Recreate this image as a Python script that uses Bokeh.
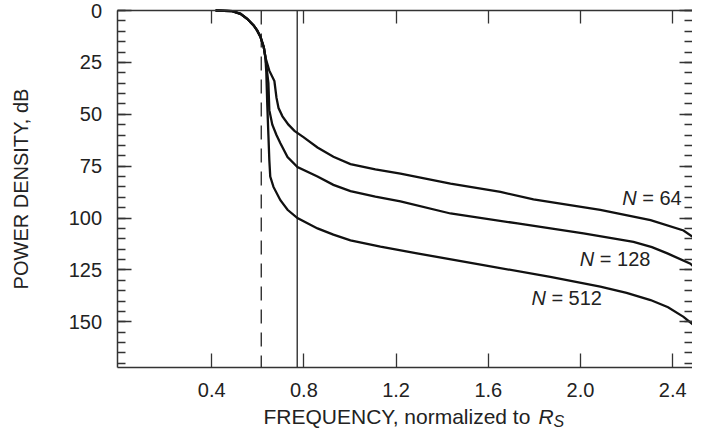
import math
from bokeh.plotting import figure
from bokeh.models import Range1d, LinearAxis, FixedTicker, Label
from bokeh.embed import file_html
from bokeh.resources import INLINE

# ---------------- data ----------------
x_common = [0.417, 0.489, 0.525, 0.554, 0.582, 0.597, 0.612, 0.626, 0.633]
db_common = [0.0, 0.3, 1.6, 4.0, 7.2, 9.6, 12.8, 17.7, 22.5]

x_n512 = [0.637, 0.641, 0.646, 0.650, 0.654, 0.668, 0.698, 0.729, 0.772, 0.859, 0.928,
          1.002, 1.132, 1.291, 1.579, 1.869, 2.086, 2.200, 2.304, 2.380, 2.447, 2.490, 2.520, 2.551]
db_n512 = [30, 45, 60, 72, 80, 85, 91.4, 96, 100, 105, 108,
           110.7, 113.8, 117, 122.7, 128.3, 133, 136, 139.5, 143, 147.6, 151.5, 155.5, 162]

x_n128 = [0.646, 0.650, 0.663, 0.681, 0.698, 0.729, 0.772, 0.859, 0.928, 1.002, 1.110, 1.219,
          1.436, 1.727, 2.013, 2.230, 2.310, 2.377, 2.477, 2.534, 2.551]
db_n128 = [35, 48, 55, 60, 64, 70.6, 75.4, 80, 84, 87, 89.7, 92,
           97.8, 102.6, 107.4, 111.5, 114, 117, 122, 128, 132]

x_n64 = [0.650, 0.672, 0.681, 0.690, 0.707, 0.733, 0.759, 0.798, 0.859, 0.928, 1.002,
         1.110, 1.219, 1.436, 1.653, 1.796, 2.086, 2.304, 2.447, 2.508, 2.534, 2.551]
db_n64 = [29, 34, 42, 47, 51, 55, 58, 61, 66, 70.5, 74,
          76.5, 78.6, 83.4, 87.4, 91, 96, 101, 106, 110.7, 115.5, 118]

series_names = ["64", "128", "512"]

x_ticks = [0.4, 0.8, 1.2, 1.6, 2.0, 2.4]
x_tick_labels = ["0.4", "0.8", "1.2", "1.6", "2.0", "2.4"]
y_ticks = [0, 25, 50, 75, 100, 125, 150]
y_minor_ticks = list(range(0, 175, 5))

# axis limits of the plotting box
x_lo, x_hi = -0.0105, 2.486
db_top, db_bottom = 0, 172

dashed_freq = 0.615
solid_freq = 0.771

x_title = "FREQUENCY, normalized to"
y_title = "POWER DENSITY, dB"

# ---------------- styling ----------------
FONT = "Liberation Sans"
TXT = "#222222"
AX = "#333333"
FS = "20px"

W, H = 692, 429
# whole canvas is the frame; the plot box is drawn by fixed-location axes
p = figure(width=W, height=H,
           x_range=Range1d(-0.5163, x_hi), y_range=Range1d(201.87, -4.818),
           output_backend="svg", toolbar_location=None,
           x_axis_location=None, y_axis_location=None, min_border=0)
p.outline_line_color = None
p.xgrid.visible = False
p.ygrid.visible = False
p.background_fill_color = "white"
p.border_fill_color = "white"


def style(ax):
    ax.axis_line_color = AX
    ax.axis_line_width = 1.5
    ax.major_tick_line_color = AX
    ax.minor_tick_line_color = AX
    ax.major_tick_line_width = 1.3
    ax.minor_tick_line_width = 1.3
    ax.major_tick_out = 0
    ax.minor_tick_out = 0
    ax.major_label_text_font = FONT
    ax.major_label_text_color = TXT
    ax.major_label_text_font_size = FS


bottom = LinearAxis(ticker=FixedTicker(ticks=x_ticks, minor_ticks=[]),
                    major_label_overrides=dict(zip(x_ticks, x_tick_labels)),
                    fixed_location=db_bottom, bounds=(x_lo, x_hi))
style(bottom)
bottom.major_tick_in = 14
bottom.minor_tick_in = 0
bottom.major_label_standoff = 15
p.add_layout(bottom, "below")

top = LinearAxis(ticker=FixedTicker(ticks=x_ticks, minor_ticks=[]),
                 major_label_overrides={t: "" for t in x_ticks},
                 fixed_location=db_top, bounds=(x_lo, x_hi))
style(top)
top.major_tick_in = 13
top.minor_tick_in = 0
top.major_label_standoff = 0
p.add_layout(top, "above")

left = LinearAxis(ticker=FixedTicker(ticks=y_ticks, minor_ticks=y_minor_ticks),
                  fixed_location=x_lo, bounds=(db_top, db_bottom))
style(left)
left.major_tick_in = 14
left.minor_tick_in = 8
left.major_label_standoff = 15
p.add_layout(left, "left")

right = LinearAxis(ticker=FixedTicker(ticks=y_ticks, minor_ticks=y_minor_ticks),
                   major_label_overrides={t: "" for t in y_ticks},
                   fixed_location=x_hi, bounds=(db_top, db_bottom))
style(right)
right.axis_line_color = None
right.major_tick_in = 13
right.minor_tick_in = 8
right.major_label_standoff = 0
p.add_layout(right, "right")

# reference lines (dashed and solid verticals spanning the plot box)
p.segment(x0=[dashed_freq], y0=[db_top], x1=[dashed_freq], y1=[db_bottom],
          line_color="#222222", line_width=1.3, line_dash="14 9")
p.segment(x0=[solid_freq], y0=[db_top], x1=[solid_freq], y1=[db_bottom],
          line_color="#222222", line_width=1.3)

# curves
for xs, ys in [(x_n64, db_n64), (x_n128, db_n128), (x_n512, db_n512)]:
    p.line(x_common + xs, db_common + ys, line_color="#111111", line_width=2.3,
           line_join="miter")

# curve labels  (anchor of the italic N, in data units)
label_pos = {"64": (2.181, 90.1), "128": (1.997, 119.6), "512": (1.787, 138.6)}
for name in series_names:
    lx, ly = label_pos[name]
    p.add_layout(Label(x=lx, y=ly, text="N", text_font=FONT, text_font_size=FS,
                       text_font_style="italic", text_color=TXT,
                       text_align="left", text_baseline="alphabetic"))
    p.add_layout(Label(x=lx, y=ly, x_offset=20, text="= " + name, text_font=FONT,
                       text_font_size=FS, text_color=TXT,
                       text_align="left", text_baseline="alphabetic"))

# y axis title
p.add_layout(Label(x=20, x_units="screen", y=(db_top + db_bottom) / 2, y_units="data",
                   angle=math.pi / 2, text=y_title, text_font=FONT, text_font_size=FS,
                   text_color=TXT, text_align="center", text_baseline="middle"))

# x axis title (italic R with subscript S)
TS = "21px"
p.add_layout(Label(x=263, y=13, x_units="screen", y_units="screen",
                   text=x_title, text_font=FONT, text_font_size=TS,
                   text_color=TXT, text_align="left", text_baseline="alphabetic"))
p.add_layout(Label(x=538, y=13, x_units="screen", y_units="screen",
                   text="R", text_font=FONT, text_font_size=TS, text_font_style="italic",
                   text_color=TXT, text_align="left", text_baseline="alphabetic"))
p.add_layout(Label(x=553, y=8, x_units="screen", y_units="screen",
                   text="S", text_font=FONT, text_font_size="16px", text_font_style="italic",
                   text_color=TXT, text_align="left", text_baseline="alphabetic"))

open("out.html", "w").write(file_html(p, INLINE))
